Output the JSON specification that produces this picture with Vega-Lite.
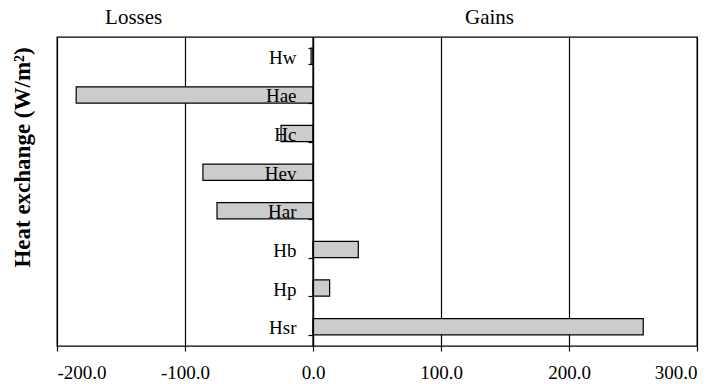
{
  "$schema": "https://vega.github.io/schema/vega-lite/v6.json",
  "width": 640,
  "height": 309,
  "autosize": "none",
  "padding": {"left": 57, "top": 37, "right": 24, "bottom": 38},
  "background": "white",
  "config": {
    "font": "Liberation Serif",
    "view": {"stroke": "black", "strokeWidth": 1.3},
    "axis": {"labelFont": "Liberation Serif", "titleFont": "Liberation Serif", "labelColor": "black", "titleColor": "black", "domainColor": "black", "tickColor": "black"}
  },
  "datasets": {
    "heat": [
      {"term": "Hw", "value": -1.5},
      {"term": "Hae", "value": -185},
      {"term": "Hc", "value": -25},
      {"term": "Hev", "value": -86},
      {"term": "Har", "value": -75},
      {"term": "Hb", "value": 35.4},
      {"term": "Hp", "value": 13},
      {"term": "Hsr", "value": 258}
    ],
    "zero": [{"value": 0}]
  },
  "layer": [
    {
      "data": {"name": "heat"},
      "mark": {"type": "bar", "fill": "#cccccc", "stroke": "black", "strokeWidth": 1.2},
      "encoding": {
        "y": {
          "field": "term", "type": "nominal", "sort": null,
          "scale": {"paddingInner": 0.58, "paddingOuter": 0.29},
          "axis": {
            "orient": "left", "offset": -256, "zindex": 1,
            "tickBand": "extent", "tickSize": 5, "tickWidth": 1.2,
            "domainWidth": 1.2,
            "labelFontSize": 19, "labelPadding": 12, "labelOffset": 1,
            "title": "Heat exchange (W/m²)", "titleFontSize": 23, "titleFontWeight": "bold",
            "titleX": -291, "titleY": 120, "titleBaseline": "middle", "titleAngle": -90
          }
        },
        "x": {
          "field": "value", "type": "quantitative",
          "scale": {"domain": [-200, 300], "nice": false},
          "axis": {
            "orient": "bottom", "values": [-200, -100, 0, 100, 200, 300],
            "labelExpr": "(datum.value < 0 ? '-' : '') + format(abs(datum.value), '.1f')",
            "grid": true, "gridColor": "black", "gridOpacity": 1, "gridWidth": 1.2,
            "tickSize": 5, "tickWidth": 1.2, "domain": false,
            "labelFontSize": 19, "labelPadding": 12, "title": null
          }
        }
      }
    },
    {
      "data": {"name": "zero"},
      "mark": {"type": "rule", "color": "black", "strokeWidth": 1.2},
      "encoding": {
        "x": {
          "field": "value", "type": "quantitative",
          "axis": {
            "orient": "top", "values": [-140.5, 137.5],
            "labelExpr": "datum.value < 0 ? 'Losses' : 'Gains'",
            "domain": false, "ticks": false, "grid": false,
            "labelFontSize": 21, "labelPadding": 10, "title": null
          }
        }
      }
    }
  ],
  "resolve": {"axis": {"x": "independent"}}
}
